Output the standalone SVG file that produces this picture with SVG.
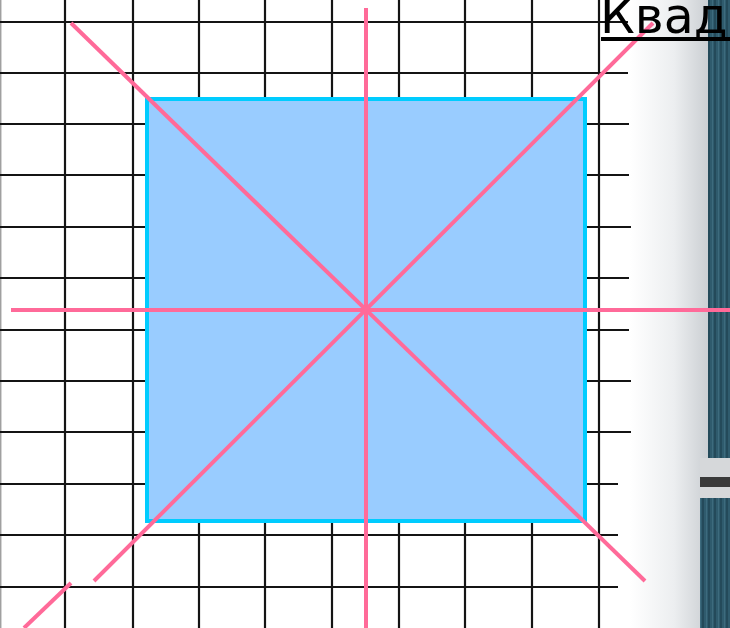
<svg xmlns="http://www.w3.org/2000/svg" width="730" height="628" viewBox="0 0 730 628">
  <defs>
    <linearGradient id="shade" x1="0" y1="0" x2="1" y2="0">
      <stop offset="0" stop-color="#ffffff"/>
      <stop offset="0.55" stop-color="#eceef0"/>
      <stop offset="1" stop-color="#c9cdd1"/>
    </linearGradient>
    <pattern id="bar" x="0" y="0" width="6" height="628" patternUnits="userSpaceOnUse">
      <rect width="6" height="628" fill="#2f5b6d"/>
      <rect x="0" width="2" height="628" fill="#244a5a"/>
      <rect x="4" width="1" height="628" fill="#3d6b7d"/>
    </pattern>
  </defs>
  <style>
    .grid { stroke: #141414; stroke-width: 2.2; fill: none; }
    .pink { stroke: #ff6a99; stroke-width: 4; fill: none; }
  </style>
  <rect width="730" height="628" fill="#ffffff"/>
  <g id="backdrop">
    <rect x="630" y="0" width="80" height="628" fill="url(#shade)"/>
    <rect x="708" y="0" width="22" height="458" fill="url(#bar)"/>
    <rect x="700" y="458" width="30" height="40" fill="#d6d8da"/>
    <rect x="700" y="477" width="30" height="10" fill="#3a3a3a"/>
    <rect x="700" y="498" width="30" height="130" fill="url(#bar)"/>
  </g>
  <g id="grid">
    <line x1="0.7" y1="0" x2="0.7" y2="628" stroke="#a0a0a0" stroke-width="1.5"/>
    <line class="grid" x1="65" y1="0" x2="65" y2="628"/>
    <line class="grid" x1="133" y1="0" x2="133" y2="628"/>
    <line class="grid" x1="199" y1="0" x2="199" y2="628"/>
    <line class="grid" x1="265" y1="0" x2="265" y2="628"/>
    <line class="grid" x1="332" y1="0" x2="332" y2="628"/>
    <line class="grid" x1="399" y1="0" x2="399" y2="628"/>
    <line class="grid" x1="465" y1="0" x2="465" y2="628"/>
    <line class="grid" x1="532" y1="0" x2="532" y2="628"/>
    <line class="grid" x1="599" y1="0" x2="599" y2="628"/>
    <line class="grid" x1="0" y1="22" x2="628" y2="22"/>
    <line class="grid" x1="0" y1="73" x2="628" y2="73"/>
    <line class="grid" x1="0" y1="124" x2="629" y2="124"/>
    <line class="grid" x1="0" y1="175" x2="629" y2="175"/>
    <line class="grid" x1="0" y1="227" x2="631" y2="227"/>
    <line class="grid" x1="0" y1="278" x2="629" y2="278"/>
    <line class="grid" x1="0" y1="330" x2="629" y2="330"/>
    <line class="grid" x1="0" y1="381" x2="631" y2="381"/>
    <line class="grid" x1="0" y1="432" x2="631" y2="432"/>
    <line class="grid" x1="0" y1="484" x2="618" y2="484"/>
    <line class="grid" x1="0" y1="535" x2="618" y2="535"/>
    <line class="grid" x1="0" y1="587" x2="618" y2="587"/>
  </g>
  <g id="square">
    <rect x="147" y="99" width="438" height="422" fill="#99ccff" stroke="#00ccff" stroke-width="4"/>
  </g>
  <g id="connectors">
    <line class="pink" x1="366" y1="8" x2="366" y2="628"/>
    <line class="pink" x1="11" y1="310" x2="730" y2="310"/>
    <line class="pink" x1="71" y1="23" x2="645" y2="581"/>
    <line class="pink" x1="94" y1="581" x2="653" y2="23"/>
    <line class="pink" x1="24" y1="628" x2="71" y2="583"/>
  </g>
  <g id="title">
    <text x="600" y="33" font-family="'DejaVu Sans', Verdana, sans-serif" font-size="49" fill="#000000">Квадрат</text>
    <rect x="601" y="37" width="129" height="4" fill="#000000"/>
  </g>
</svg>
